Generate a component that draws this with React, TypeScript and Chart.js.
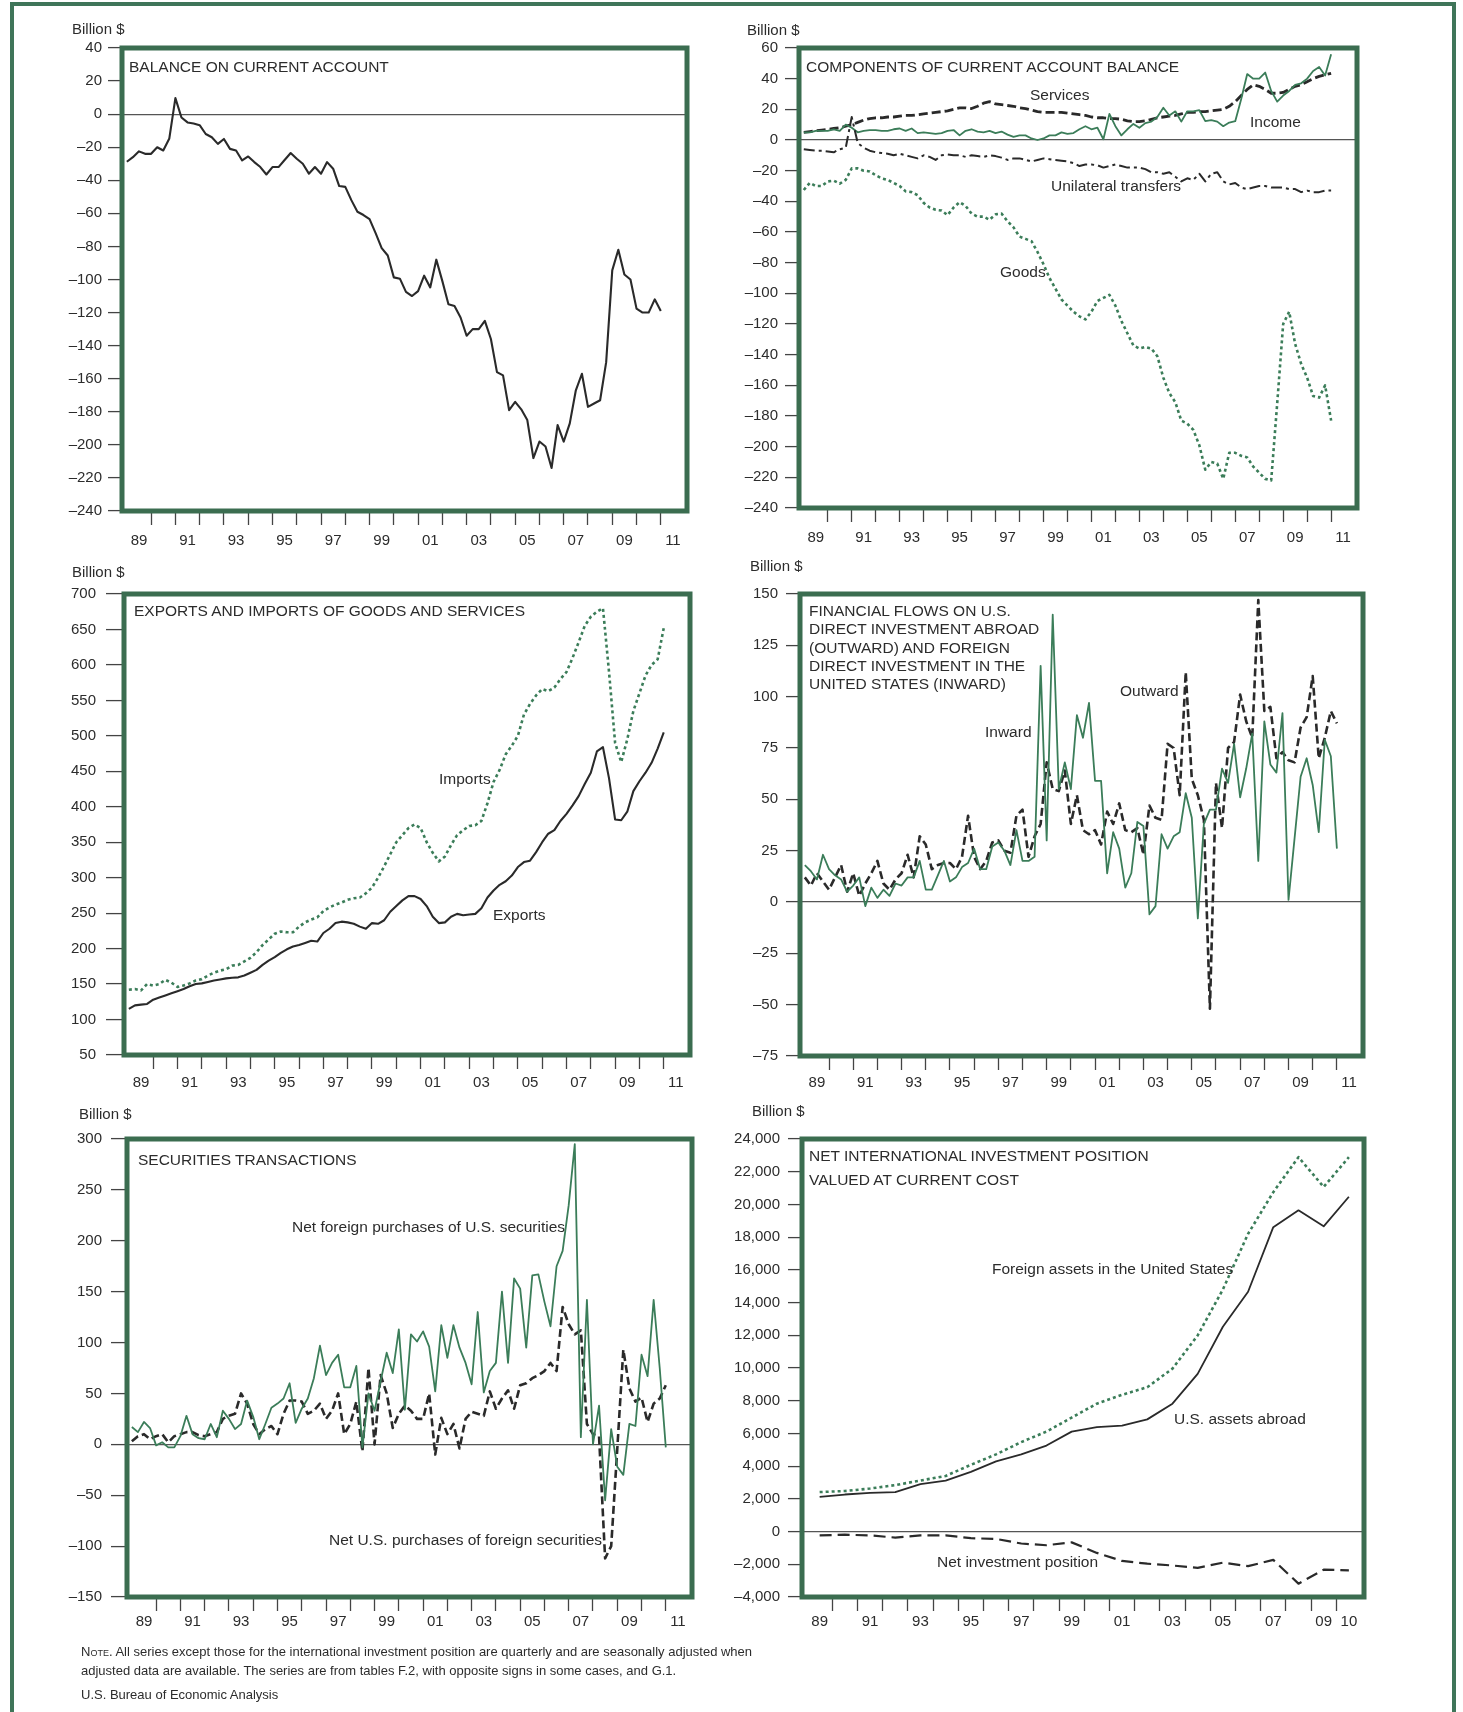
import React, { useEffect, useRef } from 'react';
import { Chart, registerables } from 'chart.js';

Chart.register(...registerables);

const FONT = '"Liberation Sans", Arial, Helvetica, sans-serif';
const INK = '#2c2c2c';
const BLACK_LINE = '#2a2a2a';
const GREEN_LINE = '#3b7d59';
const FRAME_GREEN = '#3b6d50';
const PAGE_GREEN = '#3f7559';

// ---------- categories ----------
const QUARTERS: string[] = (() => {
  const out: string[] = [];
  for (let y = 1989; y <= 2011; y++) {
    for (let q = 1; q <= 4; q++) {
      if (y === 2011 && q > 1) break;
      out.push(`${y} Q${q}`);
    }
  }
  return out;
})();
const QUARTER_POS = QUARTERS.map((s) => {
  const [y, q] = s.split(' Q');
  return Number(y) + (Number(q) - 1) / 4;
});
const YEARS = [1989, 1990, 1991, 1992, 1993, 1994, 1995, 1996, 1997, 1998, 1999, 2000, 2001, 2002, 2003, 2004, 2005, 2006, 2007, 2008, 2009, 2010];
const YEAR_POS = YEARS.map((y) => y + 0.5);

const Q_TICK_LABELS = ['89', '91', '93', '95', '97', '99', '01', '03', '05', '07', '09', '11'];
const Q_TICK_YEARS = [1989, 1991, 1993, 1995, 1997, 1999, 2001, 2003, 2005, 2007, 2009, 2011];
const Q_MARK_YEARS = [1990, 1991, 1992, 1993, 1994, 1995, 1996, 1997, 1998, 1999, 2000, 2001, 2002, 2003, 2004, 2005, 2006, 2007, 2008, 2009, 2010, 2011];
const A_TICK_LABELS = ['89', '91', '93', '95', '97', '99', '01', '03', '05', '07', '09', '10'];
const A_TICK_YEARS = [1989, 1991, 1993, 1995, 1997, 1999, 2001, 2003, 2005, 2007, 2009, 2010];
const A_MARK_YEARS = [1990, 1991, 1992, 1993, 1994, 1995, 1996, 1997, 1998, 1999, 2000, 2001, 2002, 2003, 2004, 2005, 2006, 2007, 2008, 2009, 2010];

// ---------- data (billion $), quarterly 1989Q1 - 2011Q1 ----------
const CURRENT_ACCOUNT = [
  -28.8, -26, -22.5, -24,
  -24, -20, -22, -14.7,
  9.7, -2, -5, -5.7,
  -6.7, -12, -14, -18,
  -15, -21, -22, -28,
  -25.6, -29, -32, -36.5,
  -32, -32, -27.7, -23.5,
  -27, -30, -36, -32,
  -36, -29, -33, -43.5,
  -44, -52, -59, -61,
  -63.5, -72, -81, -85.5,
  -98.7, -99.5, -107.5, -110,
  -107, -97.7, -104.8, -88,
  -101, -115, -116, -123,
  -134, -130, -130, -125,
  -136, -156, -158, -179,
  -174, -178.5, -185, -208,
  -198, -201, -214, -188,
  -198, -187, -167, -157,
  -177, -175, -173, -150,
  -94.5, -82, -97, -100,
  -117.6, -120, -120, -112,
  -119,
];

const SERVICES = [
  5, 5.5, 6, 6.5,
  7, 7.5, 8, 9,
  10, 11.5, 13, 14,
  14.5, 14.5, 15, 15,
  15.5, 16, 16, 16.5,
  17, 17.5, 18, 18.5,
  19, 20, 21, 21,
  20.5, 22, 24, 25,
  23.5, 23, 22.5, 22,
  21, 20.5, 19.5, 18.5,
  18, 18, 18, 18,
  17.5, 17, 16.5, 16,
  15, 14.5, 14.5, 14,
  14, 13.5, 12.5, 12,
  12, 12.5, 13.5, 14.5,
  15, 15.5, 16, 17,
  18, 18, 18.5, 18.5,
  19, 19.5, 20, 22,
  25, 29, 33, 36,
  35, 33, 30.5, 30.5,
  31, 33, 35, 36,
  38, 40, 41.5, 42.5,
  43.5,
];

const INCOME = [
  5, 5, 6, 6,
  6, 7, 6, 10,
  8, 5, 6, 6.5,
  6.5, 6, 6, 7,
  7.5, 6, 7.5, 4.5,
  5, 4.5, 4, 4.5,
  6, 6.5, 3, 6,
  7, 5.5, 5, 6,
  4.5, 5.5, 3.5, 2,
  3, 3, 1, 0,
  1, 3, 3, 5,
  4, 4.5, 7, 9,
  7, 8, 0.5, 17,
  9, 3, 7, 10.5,
  8, 11, 12, 15,
  21, 16, 18.7, 12,
  18.7, 18.7, 19.5, 12.3,
  13, 12, 9, 11.4,
  12.3, 26.7, 43, 40,
  40, 44, 32, 25,
  29, 32, 36, 37,
  40, 45, 47.6, 42,
  56,
];

const UNILATERAL_TRANSFERS = [
  -6, -6.5, -7, -7,
  -7.5, -8, -6, -5,
  15, -2, -5, -7,
  -8, -8.5, -9, -10,
  -9, -10, -11, -12,
  -10, -11, -13, -10,
  -9.5, -10, -10, -11,
  -10, -10.5, -11, -10,
  -10.5, -11.5, -13, -12,
  -12, -13, -14, -13,
  -12, -12.5, -13, -13.5,
  -14, -15, -17, -16,
  -16, -16.5, -18, -17,
  -16, -17, -18, -18,
  -18, -19, -21, -21,
  -22, -21, -24, -27,
  -25, -26, -22, -27,
  -22, -21, -27, -29,
  -28, -31, -32, -31,
  -30, -30, -31, -31,
  -31, -32, -32, -34,
  -33, -34, -34, -33,
  -33,
];

const GOODS = [
  -32.6, -28, -30, -30,
  -27, -26.5, -28.5, -26,
  -18.5, -18.5, -20, -20.5,
  -23, -25, -26, -28,
  -30, -33.5, -34, -36,
  -41, -44, -45.5, -46,
  -49, -44, -40.5, -43,
  -48, -50, -50, -52,
  -48.5, -48, -53, -57,
  -63, -64.5, -66, -73,
  -81, -90, -97, -104,
  -108, -112, -115, -117,
  -112, -105, -103, -101,
  -108, -118, -126, -134,
  -136, -135, -136, -141,
  -155, -165, -171, -183,
  -185, -189, -199, -215,
  -210, -211, -221, -204,
  -204, -206, -207, -213,
  -217, -221, -222, -172,
  -120, -112, -133, -146,
  -155, -167, -168, -160,
  -183,
];

const EXPORTS = [
  115, 120, 121, 122,
  128, 131, 134, 137,
  140, 143, 147, 150,
  151, 153, 155, 156.5,
  158, 159, 159.5, 162,
  166, 170, 177, 183,
  188, 194, 199, 203,
  205, 208, 211, 210,
  222, 228, 236, 238,
  237, 235, 231, 228,
  236, 235, 240, 252,
  260, 268, 274, 274,
  270, 260, 245, 236,
  237, 245, 249, 247,
  248, 249, 257, 272,
  282, 290, 295, 303,
  315, 322, 324, 336,
  350, 362, 367, 380,
  390, 402, 415, 432,
  448, 478, 484, 440,
  382, 381, 393, 422,
  436, 448, 462, 482,
  505,
];

const IMPORTS = [
  142, 143, 141, 150,
  148, 150, 156, 152,
  146, 148, 151, 155,
  157, 162, 166, 169,
  171, 176, 177, 182,
  187, 195, 205, 213,
  221, 224, 223, 223,
  231, 237, 241, 244,
  253, 258, 262, 265,
  269, 271, 272, 278,
  286, 300, 316, 333,
  350, 360, 370, 375,
  370, 350, 335, 323,
  330, 346, 360, 367,
  373, 374, 380, 405,
  435, 452, 474, 486,
  500, 530, 545, 557,
  566, 563, 568, 580,
  590, 610, 632, 655,
  668, 675, 680, 590,
  490, 463, 495, 535,
  560, 585, 600, 608,
  652,
];

const FDI_INWARD = [
  18, 15, 11, 23,
  16, 13, 11, 5,
  8, 12, -2, 7,
  2, 6, 3, 9,
  8, 12, 12, 20,
  6, 6, 13, 20,
  10, 12, 17, 19,
  26, 16, 16, 27,
  29, 25, 18, 35,
  20, 20, 22, 115,
  30, 140, 55, 68,
  55, 91, 80, 97,
  59, 59, 14, 34,
  26, 7, 14, 39,
  37, -6, -2, 33,
  26, 32, 34, 53,
  41, -8, 38, 45,
  45, 65, 58, 77,
  51, 65, 82, 20,
  88, 67, 63, 92,
  1, 31, 61, 70,
  57, 34, 79, 71,
  26,
];

const FDI_OUTWARD = [
  12, 8, 14, 10,
  6, 12, 18, 5,
  14, 3, 9, 14,
  20, 9, 6, 11,
  14, 23, 12, 32,
  28, 16, 18, 19,
  19, 16, 22, 42,
  22, 16, 20, 29,
  30, 25, 24, 42,
  45, 22, 32, 38,
  68, 55, 54, 64,
  38, 52, 35, 33,
  35, 28, 44, 38,
  48, 35, 34, 36,
  23, 47, 41, 40,
  77, 75, 52, 112,
  60, 52, 40, -52,
  58, 36, 75, 78,
  101, 88, 80, 147,
  93, 95, 70, 73,
  69, 68, 85, 90,
  110, 70, 80, 93,
  87,
];

const FOREIGN_PURCHASES_US_SEC = [
  17, 12, 22, 16,
  -1, 2, -3, -3,
  8, 28, 10, 6,
  5, 20, 7, 33,
  25, 15, 20, 43,
  27, 5, 20, 36,
  40, 45, 60, 21,
  35, 45, 65, 97,
  68, 80, 88, 56,
  56, 77, -3, 50,
  33, 62, 90, 70,
  113, 34, 108, 101,
  111, 96, 52, 117,
  85, 117, 95, 80,
  59, 130, 51, 72,
  80, 150, 80, 163,
  153, 95, 166, 167,
  140, 116, 175, 190,
  235, 295, 7, 142,
  0, 38, -55, 15,
  -22, -30, 20, 18,
  88, 67, 142, 75,
  -3,
];

const US_PURCHASES_FOREIGN_SEC = [
  3, 8, 10, 5,
  8, 10, 2, 8,
  10, 12, 12, 9,
  8, 10, 12, 25,
  28, 30, 50, 40,
  20, 10, 15, 18,
  10, 30, 43, 43,
  42, 30, 33, 40,
  25, 33, 50, 10,
  20, 42, -7, 75,
  0, 68, 50, 16,
  30, 38, 33, 25,
  25, 50, -10, 26,
  10, 20, -4, 25,
  32, 30, 28, 52,
  35, 45, 53, 35,
  58, 60, 65, 68,
  72, 80, 72, 135,
  118, 108, 112, 20,
  10, 8, -112, -100,
  -5, 93, 55, 42,
  46, 22, 40, 45,
  58,
];

// annual, 1989-2010
const US_ASSETS_ABROAD = [2115, 2265, 2370, 2415, 2905, 3120, 3650, 4295, 4720, 5257, 6110, 6390, 6475, 6860, 7820, 9640, 12520, 14660, 18610, 19640, 18660, 20470];
const FOREIGN_ASSETS_IN_US = [2415, 2480, 2630, 2840, 3120, 3400, 4080, 4720, 5470, 6110, 6970, 7820, 8360, 8825, 9960, 11990, 14800, 18200, 20750, 22890, 21070, 22890];
const NET_INVESTMENT_POSITION = [-235, -190, -235, -365, -235, -235, -405, -450, -730, -835, -660, -1305, -1795, -1965, -2075, -2220, -1900, -2115, -1730, -3185, -2330, -2370];

// ---------- helpers ----------
const fmtInt = (v: number) => (v < 0 ? '\u2013' + Math.abs(v) : String(v));
const fmtThousands = (v: number) => (v < 0 ? '\u2013' : '') + Math.abs(v).toLocaleString('en-US');

type Series = { label: string; data: number[]; color: string; width: number; dash?: number[] };
type PanelSpec = {
  rect: { l: number; t: number; r: number; b: number };
  xMin: number;
  xMax: number;
  marks: number[];
  labelPos: number[];
  labels: string[];
  xValues: number[];
  yMin: number;
  yMax: number;
  yStep: number;
  yTick: number;
  yPad: number;
  xPad: number;
  fmt: (v: number) => string;
  zero: boolean;
  series: Series[];
};

const framePlugin = {
  id: 'greenFrame',
  afterDatasetsDraw(chart: any) {
    const { ctx, chartArea: a } = chart;
    ctx.save();
    ctx.strokeStyle = FRAME_GREEN;
    ctx.lineWidth = 5;
    ctx.strokeRect(a.left, a.top, a.right - a.left, a.bottom - a.top);
    ctx.restore();
  },
};

const YW = 80;
const PT = 22;
const PR = 12;
const XH1 = 14;
const XH2 = 34;

function ChartPanel({ spec }: { spec: PanelSpec }) {
  const ref = useRef<HTMLCanvasElement>(null);
  const w = spec.rect.r - spec.rect.l + YW + PR;
  const h = spec.rect.b - spec.rect.t + PT + XH1 + XH2;
  useEffect(() => {
    if (!ref.current) return;
    const chart = new Chart(ref.current, {
      type: 'line',
      data: {
        labels: spec.xValues,
        datasets: spec.series.map((s) => ({
          label: s.label,
          data: s.data,
          borderColor: s.color,
          borderWidth: s.width,
          borderDash: s.dash || [],
          borderCapStyle: 'butt',
          borderJoinStyle: 'round',
          pointRadius: 0,
          tension: 0,
          fill: false,
        })),
      },
      options: {
        responsive: false,
        animation: false,
        devicePixelRatio: 1,
        events: [],
        layout: { padding: { top: PT, right: PR, left: 0, bottom: 0 }, autoPadding: false },
        plugins: { legend: { display: false }, tooltip: { enabled: false }, title: { display: false } },
        scales: {
          x: {
            type: 'linear',
            position: 'bottom',
            weight: 0,
            min: spec.xMin,
            max: spec.xMax,
            afterBuildTicks: (s: any) => {
              s.ticks = spec.marks.map((v) => ({ value: v }));
            },
            afterFit: (s: any) => {
              s.height = XH1;
            },
            ticks: { display: false },
            grid: { drawOnChartArea: false, drawTicks: true, tickLength: XH1, tickColor: '#444', tickWidth: 1.3 },
            border: { display: false },
          },
          x2: {
            type: 'linear',
            position: 'bottom',
            display: true,
            weight: 1,
            min: spec.xMin,
            max: spec.xMax,
            afterBuildTicks: (s: any) => {
              s.ticks = spec.labelPos.map((v) => ({ value: v }));
            },
            afterFit: (s: any) => {
              s.height = XH2;
            },
            ticks: {
              autoSkip: false,
              maxRotation: 0,
              padding: spec.xPad,
              color: INK,
              font: { family: FONT, size: 15 },
              callback: (_v: any, i: number) => spec.labels[i],
            },
            grid: { display: false, drawTicks: false },
            border: { display: false },
          },
          y: {
            type: 'linear',
            position: 'left',
            min: spec.yMin,
            max: spec.yMax,
            afterFit: (s: any) => {
              s.width = YW;
            },
            ticks: {
              stepSize: spec.yStep,
              autoSkip: false,
              padding: spec.yPad,
              color: INK,
              font: { family: FONT, size: 15 },
              callback: (v: any) => spec.fmt(Number(v)),
            },
            grid: {
              drawOnChartArea: true,
              drawTicks: true,
              tickLength: spec.yTick,
              tickColor: '#444',
              tickWidth: 1.3,
              lineWidth: 1.2,
              color: (c: any) => (spec.zero && c.tick && c.tick.value === 0 ? '#555' : 'rgba(0,0,0,0)'),
            },
            border: { display: false },
          },
        },
      },
      plugins: [framePlugin],
    } as any);
    return () => chart.destroy();
  }, [spec]);
  return (
    <canvas
      ref={ref}
      width={w}
      height={h}
      style={{ position: 'absolute', left: spec.rect.l - YW, top: spec.rect.t - PT, width: w, height: h }}
    />
  );
}

const Q_X = { xMin: 1988.8, xMax: 2012.08, marks: Q_MARK_YEARS, labelPos: Q_TICK_YEARS.map((y) => y + 0.5), labels: Q_TICK_LABELS, xValues: QUARTER_POS };

const PANELS: PanelSpec[] = [
  {
    rect: { l: 122, t: 48, r: 687, b: 511 },
    ...Q_X,
    yMin: -240, yMax: 40, yStep: 20, yTick: 14, yPad: 6, xPad: 7, fmt: fmtInt, zero: true,
    series: [{ label: 'Balance on current account', data: CURRENT_ACCOUNT, color: BLACK_LINE, width: 2.1 }],
  },
  {
    rect: { l: 799, t: 48, r: 1357, b: 508 },
    ...Q_X,
    yMin: -240, yMax: 60, yStep: 20, yTick: 14, yPad: 7, xPad: 7, fmt: fmtInt, zero: true,
    series: [
      { label: 'Goods', data: GOODS, color: GREEN_LINE, width: 2.6, dash: [3, 3] },
      { label: 'Unilateral transfers', data: UNILATERAL_TRANSFERS, color: BLACK_LINE, width: 2, dash: [11, 4, 3, 4] },
      { label: 'Income', data: INCOME, color: GREEN_LINE, width: 1.8 },
      { label: 'Services', data: SERVICES, color: BLACK_LINE, width: 2.8, dash: [9, 4] },
    ],
  },
  {
    rect: { l: 124, t: 594, r: 690, b: 1055 },
    ...Q_X,
    yMin: 50, yMax: 700, yStep: 50, yTick: 18, yPad: 10, xPad: 5, fmt: fmtInt, zero: false,
    series: [
      { label: 'Imports', data: IMPORTS, color: GREEN_LINE, width: 2.6, dash: [3, 3] },
      { label: 'Exports', data: EXPORTS, color: BLACK_LINE, width: 2.1 },
    ],
  },
  {
    rect: { l: 800, t: 594, r: 1363, b: 1056 },
    ...Q_X,
    yMin: -75, yMax: 150, yStep: 25, yTick: 14, yPad: 8, xPad: 4, fmt: fmtInt, zero: true,
    series: [
      { label: 'Inward', data: FDI_INWARD, color: GREEN_LINE, width: 1.8 },
      { label: 'Outward', data: FDI_OUTWARD, color: BLACK_LINE, width: 2.6, dash: [8, 4] },
    ],
  },
  {
    rect: { l: 127, t: 1139, r: 692, b: 1597 },
    ...Q_X,
    yMin: -150, yMax: 300, yStep: 50, yTick: 16, yPad: 9, xPad: 2, fmt: fmtInt, zero: true,
    series: [
      { label: 'Net foreign purchases of U.S. securities', data: FOREIGN_PURCHASES_US_SEC, color: GREEN_LINE, width: 1.8 },
      { label: 'Net U.S. purchases of foreign securities', data: US_PURCHASES_FOREIGN_SEC, color: BLACK_LINE, width: 2.6, dash: [8, 4] },
    ],
  },
  {
    rect: { l: 802, t: 1139, r: 1364, b: 1597 },
    xMin: 1988.8, xMax: 2011.1, marks: A_MARK_YEARS, labelPos: A_TICK_YEARS.map((y) => y + 0.5), labels: A_TICK_LABELS, xValues: YEAR_POS,
    yMin: -4000, yMax: 24000, yStep: 2000, yTick: 14, yPad: 8, xPad: 2, fmt: fmtThousands, zero: true,
    series: [
      { label: 'Foreign assets in the United States', data: FOREIGN_ASSETS_IN_US, color: GREEN_LINE, width: 2.6, dash: [3, 3] },
      { label: 'U.S. assets abroad', data: US_ASSETS_ABROAD, color: BLACK_LINE, width: 1.8 },
      { label: 'Net investment position', data: NET_INVESTMENT_POSITION, color: BLACK_LINE, width: 2.2, dash: [12, 6] },
    ],
  },
];

type TextItem = { x: number; cy: number; text: string; size?: number };
const TEXTS: TextItem[] = [
  { x: 72, cy: 29, text: 'Billion $', size: 15 },
  { x: 129, cy: 66, text: 'BALANCE ON CURRENT ACCOUNT' },
  { x: 747, cy: 30, text: 'Billion $', size: 15 },
  { x: 806, cy: 66, text: 'COMPONENTS OF CURRENT ACCOUNT BALANCE' },
  { x: 1030, cy: 94, text: 'Services' },
  { x: 1250, cy: 121.5, text: 'Income' },
  { x: 1051, cy: 185, text: 'Unilateral transfers' },
  { x: 1000, cy: 271, text: 'Goods' },
  { x: 72, cy: 572, text: 'Billion $', size: 15 },
  { x: 134, cy: 610, text: 'EXPORTS AND IMPORTS OF GOODS AND SERVICES' },
  { x: 439, cy: 778, text: 'Imports' },
  { x: 493, cy: 914, text: 'Exports' },
  { x: 750, cy: 566, text: 'Billion $', size: 15 },
  { x: 809, cy: 610.4, text: 'FINANCIAL FLOWS ON U.S.' },
  { x: 809, cy: 628.7, text: 'DIRECT INVESTMENT ABROAD' },
  { x: 809, cy: 647, text: '(OUTWARD) AND FOREIGN' },
  { x: 809, cy: 665.3, text: 'DIRECT INVESTMENT IN THE' },
  { x: 809, cy: 683.6, text: 'UNITED STATES (INWARD)' },
  { x: 1120, cy: 690, text: 'Outward' },
  { x: 985, cy: 731, text: 'Inward' },
  { x: 79, cy: 1114, text: 'Billion $', size: 15 },
  { x: 138, cy: 1159, text: 'SECURITIES TRANSACTIONS' },
  { x: 292, cy: 1226, text: 'Net foreign purchases of U.S. securities' },
  { x: 329, cy: 1539, text: 'Net U.S. purchases of foreign securities' },
  { x: 752, cy: 1111, text: 'Billion $', size: 15 },
  { x: 809, cy: 1155, text: 'NET INTERNATIONAL INVESTMENT POSITION' },
  { x: 809, cy: 1179, text: 'VALUED AT CURRENT COST' },
  { x: 992, cy: 1268, text: 'Foreign assets in the United States' },
  { x: 1174, cy: 1418, text: 'U.S. assets abroad' },
  { x: 937, cy: 1561, text: 'Net investment position' },
];

function Label({ item }: { item: TextItem }) {
  const size = item.size ?? 15.5;
  const lh = Math.round(size * 1.2);
  return (
    <div
      style={{
        position: 'absolute',
        left: item.x,
        top: item.cy - lh / 2,
        fontFamily: FONT,
        fontSize: size,
        lineHeight: `${lh}px`,
        color: INK,
        whiteSpace: 'nowrap',
      }}
    >
      {item.text}
    </div>
  );
}

export default function App() {
  return (
    <div style={{ position: 'absolute', left: 0, top: 0, width: 1463, height: 1712, background: '#ffffff', overflow: 'hidden' }}>
      <div
        style={{
          position: 'absolute',
          left: 10,
          top: 2,
          width: 1446,
          height: 1760,
          borderLeft: `4px solid ${PAGE_GREEN}`,
          borderTop: `4px solid ${PAGE_GREEN}`,
          borderRight: `4px solid ${PAGE_GREEN}`,
          boxSizing: 'border-box',
        }}
      />
      {PANELS.map((p, i) => (
        <ChartPanel key={i} spec={p} />
      ))}
      {TEXTS.map((t, i) => (
        <Label key={i} item={t} />
      ))}
      <div style={{ position: 'absolute', left: 81, top: 1642, fontFamily: FONT, fontSize: 13, lineHeight: '19px', color: INK, whiteSpace: 'nowrap' }}>
        <div>
          <span style={{ fontVariant: 'small-caps' }}>Note.</span> All series except those for the international investment position are quarterly and are seasonally adjusted when
        </div>
        <div>adjusted data are available. The series are from tables F.2, with opposite signs in some cases, and G.1.</div>
        <div style={{ marginTop: 5 }}>U.S. Bureau of Economic Analysis</div>
      </div>
    </div>
  );
}
